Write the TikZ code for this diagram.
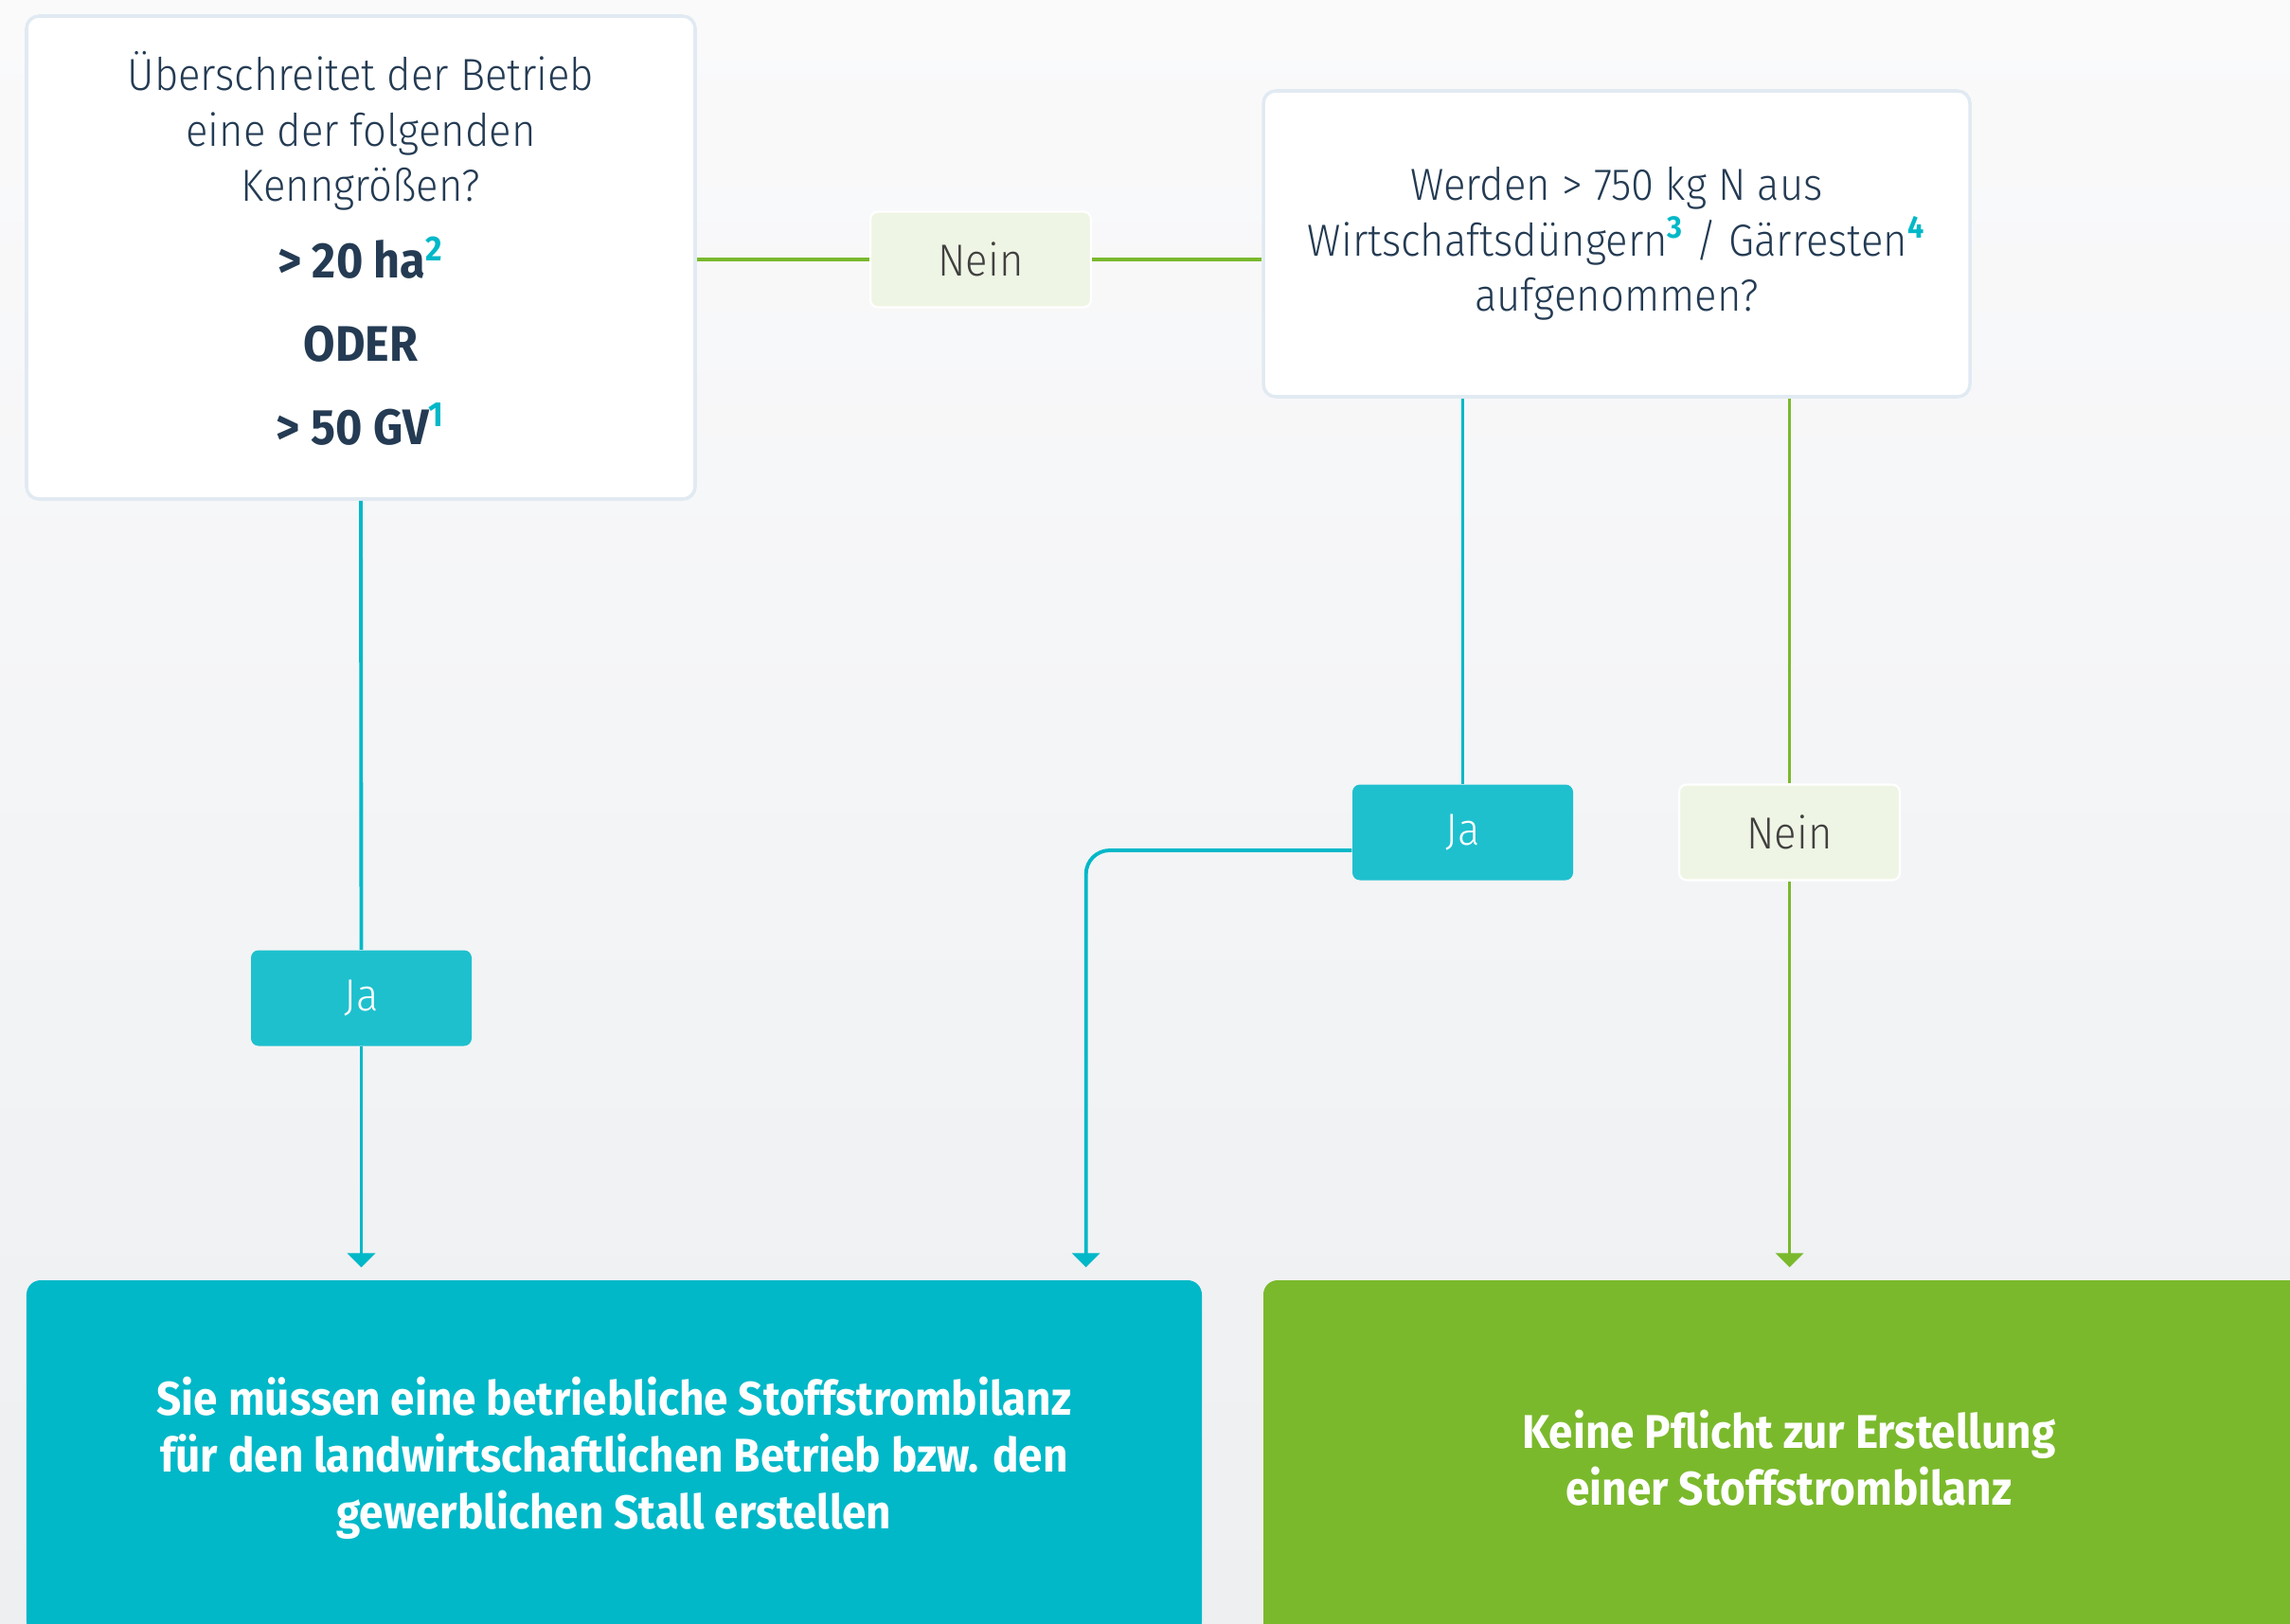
\documentclass[tikz,border=0pt]{standalone}
\usepackage{fontspec}
\setmainfont{Fira Sans Light}[FakeStretch=0.92, BoldFont=Fira Sans Bold]
\usetikzlibrary{arrows.meta}

\definecolor{tuerkis}{HTML}{00B8C8}
\definecolor{tuerkishell}{HTML}{1EC0CE}
\definecolor{gruen}{HTML}{7AB92C}
\definecolor{gruenhell}{HTML}{EFF5E4}
\definecolor{textblau}{HTML}{243B53}
\definecolor{rahmen}{HTML}{E1EAF2}
\definecolor{grundoben}{HTML}{FAFAFB}
\definecolor{grundunten}{HTML}{EDEFF1}

\newcommand{\hochzahl}[1]{\textsuperscript{\textcolor{tuerkis}{\bfseries #1}}}

\begin{document}
\begin{tikzpicture}[
    frage/.style={draw=rahmen, line width=1pt, fill=white, rounded corners=0.13cm,
        align=center, text=textblau, font=\fontsize{13.5}{16.6}\selectfont},
    antwort/.style={rounded corners=0.08cm, minimum width=2.33cm, minimum height=1.01cm,
        font=\fontsize{13.5}{15}\selectfont},
    ja/.style={antwort, fill=tuerkishell, text=white},
    nein/.style={antwort, fill=gruenhell, draw=white, line width=0.6pt, text=black!75},
    ergebnis/.style={rounded corners=0.15cm, minimum height=3.76cm, align=center,
        text=white, font=\bfseries\fontsize{14.2}{17}\selectfont},
    linie/.style={line width=1.1pt},
    pfeil/.style={linie, shorten >=0.13cm, -{Triangle[length=0.15cm, width=0.29cm]}},
]
\clip (0,0) rectangle (24.18,-17.15);
\shade[top color=grundoben, bottom color=grundunten] (0,0) rectangle (24.18,-17.15);

\node[frage, minimum width=7.06cm, minimum height=5.10cm, text depth=0.2cm] (kenn) at (3.81,-2.72)
    {Überschreitet der Betrieb\\ eine der folgenden\\ Kenngrößen?\\[6.4pt]
     {\bfseries\fontsize{15}{16.6}\selectfont > 20 ha\hochzahl{2}}\\[8.4pt]
     {\bfseries\fontsize{15}{16.6}\selectfont ODER}\\[8.4pt]
     {\bfseries\fontsize{15}{16.6}\selectfont > 50 GV\hochzahl{1}}};
\node[frage, minimum width=7.46cm, minimum height=3.23cm] (guelle) at (17.07,-2.575)
    {Werden > 750 kg N aus\\ Wirtschaftsdüngern\hochzahl{3} / Gärresten\hochzahl{4}\\ aufgenommen?};

\node[nein] (neinoben) at (10.355,-2.74) {Nein};
\node[ja] (jalinks) at (3.815,-10.54) {Ja};
\node[ja] (jamitte) at (15.445,-8.79) {Ja};
\node[nein] (neinrechts) at (18.895,-8.79) {Nein};

\node[ergebnis, fill=tuerkis, minimum width=12.41cm] (pflicht) at (6.485,-15.40)
    {Sie müssen eine betriebliche Stoffstrombilanz\\ für den landwirtschaftlichen Betrieb bzw. den\\ gewerblichen Stall erstellen};
\node[ergebnis, fill=gruen, minimum width=11.10cm] (keine) at (18.89,-15.40)
    {Keine Pflicht zur Erstellung\\ einer Stoffstrombilanz};

\draw[linie, gruen] (kenn.east |- neinoben) -- (neinoben.west);
\draw[linie, gruen] (neinoben.east) -- (neinoben.east -| guelle.west);
\draw[linie, tuerkis] (kenn.south) -- (jalinks.north);
\draw[pfeil, tuerkis] (jalinks.south) -- (jalinks |- pflicht.north);
\draw[linie, tuerkis] (guelle.south -| jamitte) -- (jamitte.north);
\draw[linie, gruen] (guelle.south -| neinrechts) -- (neinrechts.north);
\draw[pfeil, gruen] (neinrechts.south) -- (neinrechts |- keine.north);
\draw[pfeil, tuerkis, rounded corners=0.25cm] ([yshift=-0.19cm]jamitte.west)
    -| ([xshift=-1.23cm]pflicht.north east);
\end{tikzpicture}
\end{document}
